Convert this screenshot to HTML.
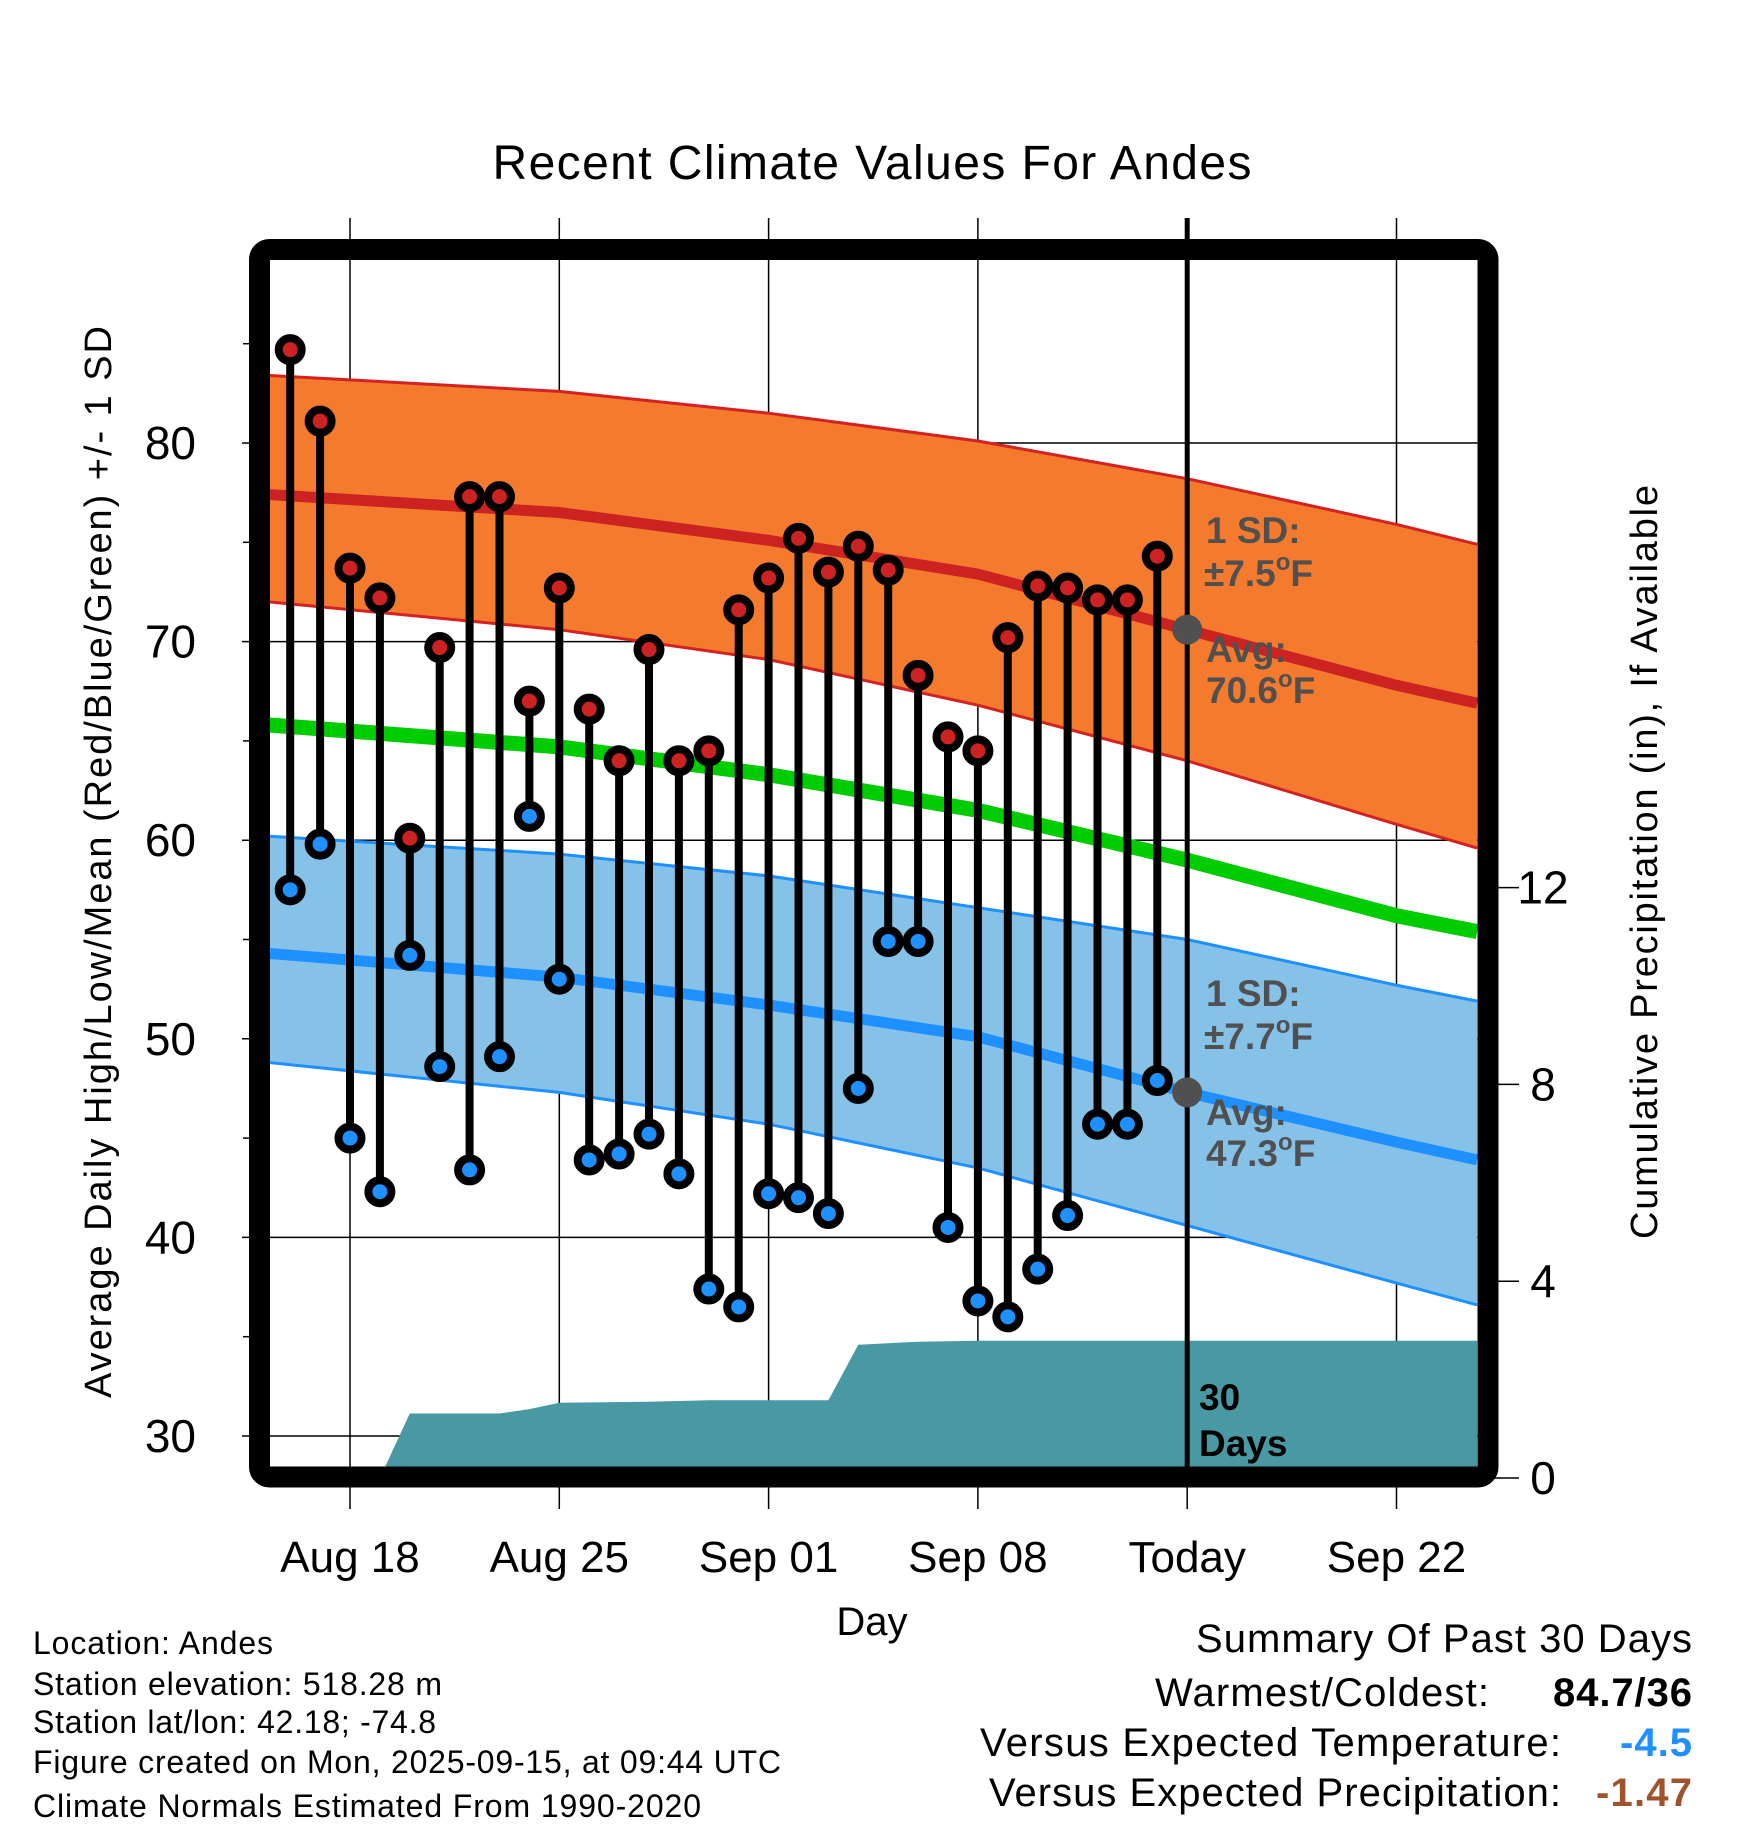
<!DOCTYPE html>
<html><head><meta charset="utf-8"><style>
html,body{margin:0;padding:0;background:#fff;}
svg{display:block;font-family:"Liberation Sans",Arial,sans-serif;}
</style></head><body>
<svg id="chart" width="1748" height="1828" viewBox="0 0 1748 1828" xmlns="http://www.w3.org/2000/svg">
<defs><clipPath id="plotclip"><rect x="270" y="260" width="1208" height="1207"/></clipPath></defs>
<g id="gridlayer"></g>
<g id="plotlayer" clip-path="url(#plotclip)"></g>
<g id="marklayer"></g>
<g id="annot"></g>
<rect x="259.5" y="249.5" width="1228.5" height="1227.5" rx="10" fill="none" stroke="#000" stroke-width="21"/>
<g id="axislayer"></g>
<text x="872" y="179" font-size="48" text-anchor="middle" textLength="759">Recent Climate Values For Andes</text>
<text transform="translate(111,862) rotate(-90)" font-size="38" text-anchor="middle" textLength="1072">Average Daily High/Low/Mean (Red/Blue/Green) +/- 1 SD</text>
<text transform="translate(1657,862) rotate(-90)" font-size="38" text-anchor="middle" textLength="754">Cumulative Precipitation (in), If Available</text>
<text x="872" y="1635" font-size="40" text-anchor="middle">Day</text>
<g font-size="32">
<text x="33" y="1654" textLength="240">Location: Andes</text>
<text x="33" y="1695" textLength="409">Station elevation: 518.28 m</text>
<text x="33" y="1733" textLength="403">Station lat/lon: 42.18; -74.8</text>
<text x="33" y="1773" textLength="748">Figure created on Mon, 2025-09-15, at 09:44 UTC</text>
<text x="33" y="1817" textLength="668">Climate Normals Estimated From 1990-2020</text>
</g>
<g font-size="40">
<text x="1692" y="1652" text-anchor="end" textLength="496">Summary Of Past 30 Days</text>
<text x="1489" y="1706" text-anchor="end" textLength="334">Warmest/Coldest:</text>
<text x="1692" y="1706" text-anchor="end" font-weight="bold" textLength="139">84.7/36</text>
<text x="1561" y="1756" text-anchor="end" textLength="581">Versus Expected Temperature:</text>
<text x="1692" y="1756" text-anchor="end" font-weight="bold" fill="#1e90ff" textLength="72">-4.5</text>
<text x="1561" y="1806" text-anchor="end" textLength="572">Versus Expected Precipitation:</text>
<text x="1692" y="1806" text-anchor="end" font-weight="bold" fill="#a0522d" textLength="96">-1.47</text>
</g>
</svg>
<script>
// day index: 0 = Aug 18
const highs = [84.7,81.1,73.7,72.2,60.1,69.7,77.3,77.3,67.0,72.7,66.6,64.0,69.6,64.0,64.5,71.6,73.2,75.2,73.5,74.8,73.6,68.3,65.2,64.5,70.2,72.8,72.7,72.1,72.1,74.3];
const lows = [57.5,59.8,45.0,42.3,54.2,48.6,43.4,49.1,61.2,53.0,43.9,44.2,45.2,43.2,37.4,36.5,42.2,42.0,41.2,47.5,54.9,54.9,40.5,36.8,36.0,38.4,41.1,45.7,45.7,47.9];
const firstDay = -2;
const normDays = [-2.7,7,14,21,28,35,37.7];
const normHigh = [77.4,76.5,75.1,73.4,70.6,67.8,66.9];
const normHighUp = [83.4,82.6,81.5,80.1,78.2,75.9,74.9];
const normHighLo = [72.0,70.6,69.1,66.8,64.0,60.8,59.6];
const normMean = [65.8,64.7,63.3,61.5,59.0,56.2,55.4];
const normLow = [54.3,53.1,51.7,50.1,47.3,44.8,43.9];
const normLowUp = [60.2,59.3,58.2,56.6,55.0,52.7,51.9];
const normLowLo = [48.8,47.3,45.7,43.5,40.6,37.7,36.6];
const precipDays = [-2.7,1,2,5,6,7,10,12,16,17,18,19,20,21,28,37.7];
const precipCum = [0,0,1.31,1.31,1.40,1.53,1.55,1.58,1.58,2.71,2.74,2.77,2.78,2.79,2.79,2.79];
const xTickDays = [0,7,14,21,28,35];
const xTickLabels = ["Aug 18","Aug 25","Sep 01","Sep 08","Today","Sep 22"];
const yTicks = [30,40,50,60,70,80];
const yMinor = [35,45,55,65,75,85];
const y2Ticks = [0,4,8,12];
const todayDay = 28;

const X = d => 350 + 29.9*d;
const Y = v => 443 + (80 - v)*19.86;
const Y2 = p => 1478 - p*49.2;
const NS = "http://www.w3.org/2000/svg";
function mk(tag, attrs, parent){ const e=document.createElementNS(NS,tag); for(const k in attrs) e.setAttribute(k,attrs[k]); parent.appendChild(e); return e; }
const grid=document.getElementById('gridlayer'), plot=document.getElementById('plotlayer'), marks=document.getElementById('marklayer'), axes=document.getElementById('axislayer'), annot=document.getElementById('annot');

// grid
xTickDays.forEach((d,i)=>{
  const l=mk('line',{x1:X(d),x2:X(d),y1:218,y2:1509,stroke:'#000','stroke-width':1.5},grid);
  
  
  const t=mk('text',{x:X(d),y:1572,'font-size':44,'text-anchor':'middle'},axes);
  t.textContent=xTickLabels[i];
  
  
});
yTicks.forEach(v=>{
  const l=mk('line',{x1:242,x2:1478,y1:Y(v),y2:Y(v),stroke:'#000','stroke-width':1.5},grid);
  
  
  const t=mk('text',{x:196,y:Y(v)+16,'font-size':46,'text-anchor':'end'},axes);
  t.textContent=v;
  
  
});
yMinor.forEach(v=>{
  const l=mk('line',{x1:243,x2:252,y1:Y(v),y2:Y(v),stroke:'#000','stroke-width':1.5},axes);
  
  
});
y2Ticks.forEach(p=>{
  const l=mk('line',{x1:1490,x2:1519,y1:Y2(p),y2:Y2(p),stroke:'#000','stroke-width':1.5},axes);
  
  
  const t=mk('text',{x:1543,y:Y2(p)+16,'font-size':46,'text-anchor':'middle'},axes);
  t.textContent=p;
  
  
});

function pts(days,vals,f){ return days.map((d,i)=>X(d).toFixed(1)+','+f(vals[i]).toFixed(1)); }
function band(up,lo,fill,name){
  const p=pts(normDays,up,Y).concat(pts(normDays,lo,Y).reverse());
  const e=mk('polygon',{points:p.join(' '),fill:fill},plot);
  
  
}
function line(vals,stroke,w,name){
  const e=mk('polyline',{points:pts(normDays,vals,Y).join(' '),fill:'none',stroke:stroke,'stroke-width':w},plot);
  
  
}
band(normHighUp,normHighLo,'#f47a2e','high-sd-band');
band(normLowUp,normLowLo,'#86c1e8','low-sd-band');
line(normHighUp,'#d42222',3,'high-upper-line');
line(normHighLo,'#d42222',3,'high-lower-line');
line(normLowUp,'#1e90ff',3,'low-upper-line');
line(normLowLo,'#1e90ff',3,'low-lower-line');
line(normHigh,'#cc2222',11,'normal-high-line');
line(normLow,'#1e90ff',11,'normal-low-line');
line(normMean,'#00cc00',15,'normal-mean-line');
// precip
{
  const p=pts(precipDays,precipCum,Y2);
  p.push(X(precipDays[precipDays.length-1]).toFixed(1)+',1490', X(precipDays[0]).toFixed(1)+',1490');
  const e=mk('polygon',{points:p.join(' '),fill:'#4899a3'},plot);
  
  
}
// today line
{
  const e=mk('line',{x1:X(todayDay),x2:X(todayDay),y1:218,y2:1467,stroke:'#000','stroke-width':5},marks);
  
  
}
// daily markers
highs.forEach((h,i)=>{
  const x=X(firstDay+i);
  const s=mk('line',{x1:x,x2:x,y1:Y(h),y2:Y(lows[i]),stroke:'#000','stroke-width':8},marks);
  
  
});
highs.forEach((h,i)=>{
  const x=X(firstDay+i);
  const a=mk('circle',{cx:x,cy:Y(h),r:11.5,fill:'#cc2222',stroke:'#000','stroke-width':8},marks);
  
  
  const b=mk('circle',{cx:x,cy:Y(lows[i]),r:11.5,fill:'#1e90ff',stroke:'#000','stroke-width':8},marks);
  
  
});
// today normal dots
[normHigh[4],normLow[4]].forEach(v=>{
  const c=mk('circle',{cx:X(todayDay),cy:Y(v),r:15,fill:'#505050'},marks);
  
  
});
// annotations
function ann(x,y,txt,deg,color,name){
  const t=mk('text',{x:x,y:y,'font-size':37,'font-weight':'bold',fill:color},annot);
  
  
  t.appendChild(document.createTextNode(txt));
  if(deg){
    const s=mk('tspan',{'font-size':24,dy:-16},t); s.textContent='o';
    const f=mk('tspan',{dy:16},t); f.textContent='F';
  }
}
ann(1206,543,'1 SD:',false,'#505050','high-sd-label');
ann(1204,586,'±7.5',true,'#505050','high-sd-value');
ann(1206,662,'Avg:',false,'#505050','high-avg-label');
ann(1206,703,'70.6',true,'#505050','high-avg-value');
ann(1206,1006,'1 SD:',false,'#505050','low-sd-label');
ann(1204,1049,'±7.7',true,'#505050','low-sd-value');
ann(1206,1125,'Avg:',false,'#505050','low-avg-label');
ann(1206,1166,'47.3',true,'#505050','low-avg-value');
ann(1199,1410,'30',false,'#000','days-count-label');
ann(1199,1456,'Days',false,'#000','days-unit-label');
</script>
</body></html>
